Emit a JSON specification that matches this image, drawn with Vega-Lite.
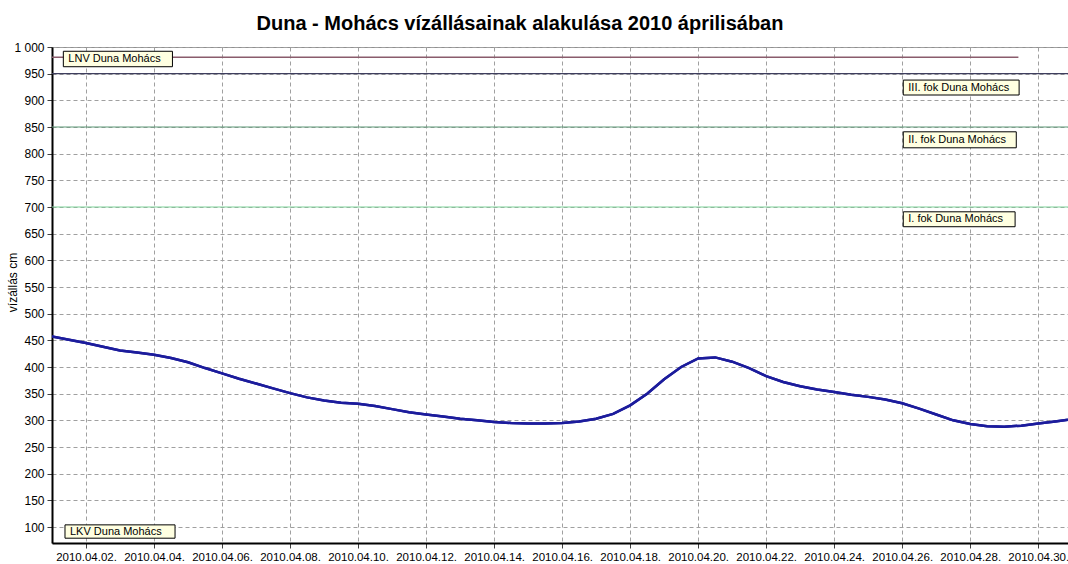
{
  "$schema": "https://vega.github.io/schema/vega-lite/v6.json",
  "width": 1016,
  "height": 496,
  "autosize": {"type": "none"},
  "padding": {"left": 52, "top": 47, "right": 0, "bottom": 21},
  "background": "white",
  "title": {
    "text": "Duna - Mohács vízállásainak alakulása 2010 áprilisában",
    "font": "Liberation Sans",
    "fontSize": 20,
    "fontWeight": "bold",
    "color": "black",
    "anchor": "middle",
    "frame": "group",
    "dx": -40,
    "offset": 7
  },
  "config": {
    "view": {"stroke": "#909090", "strokeWidth": 1},
    "font": "Liberation Sans",
    "axis": {
      "labelFont": "Liberation Sans",
      "labelFontSize": 12,
      "labelColor": "black",
      "labelOverlap": false,
      "titleFont": "Liberation Sans",
      "domainColor": "black",
      "domainWidth": 2,
      "tickColor": "#404040",
      "tickSize": 5,
      "gridColor": "#a0a0a0",
      "gridDash": [4, 3],
      "gridWidth": 1
    },
    "axisY": {"labelOverlap": false, "tickCount": 19}
  },
  "datasets": {
    "level": [
      {"t": "2010-04-01T00:00", "v": 457},
      {"t": "2010-04-01T12:00", "v": 451},
      {"t": "2010-04-02T00:00", "v": 445},
      {"t": "2010-04-02T12:00", "v": 438},
      {"t": "2010-04-03T00:00", "v": 431},
      {"t": "2010-04-03T12:00", "v": 427},
      {"t": "2010-04-04T00:00", "v": 423},
      {"t": "2010-04-04T12:00", "v": 417},
      {"t": "2010-04-05T00:00", "v": 409},
      {"t": "2010-04-05T12:00", "v": 398},
      {"t": "2010-04-06T00:00", "v": 388},
      {"t": "2010-04-06T12:00", "v": 378},
      {"t": "2010-04-07T00:00", "v": 369},
      {"t": "2010-04-07T12:00", "v": 360},
      {"t": "2010-04-08T00:00", "v": 351},
      {"t": "2010-04-08T12:00", "v": 343},
      {"t": "2010-04-09T00:00", "v": 337},
      {"t": "2010-04-09T12:00", "v": 333},
      {"t": "2010-04-10T00:00", "v": 331},
      {"t": "2010-04-10T12:00", "v": 327},
      {"t": "2010-04-11T00:00", "v": 321},
      {"t": "2010-04-11T12:00", "v": 315},
      {"t": "2010-04-12T00:00", "v": 311},
      {"t": "2010-04-12T12:00", "v": 307},
      {"t": "2010-04-13T00:00", "v": 303},
      {"t": "2010-04-13T12:00", "v": 300},
      {"t": "2010-04-14T00:00", "v": 297},
      {"t": "2010-04-14T12:00", "v": 295},
      {"t": "2010-04-15T00:00", "v": 294},
      {"t": "2010-04-15T12:00", "v": 294},
      {"t": "2010-04-16T00:00", "v": 295},
      {"t": "2010-04-16T12:00", "v": 298},
      {"t": "2010-04-17T00:00", "v": 303},
      {"t": "2010-04-17T12:00", "v": 312},
      {"t": "2010-04-18T00:00", "v": 328},
      {"t": "2010-04-18T12:00", "v": 350},
      {"t": "2010-04-19T00:00", "v": 377},
      {"t": "2010-04-19T12:00", "v": 400},
      {"t": "2010-04-20T00:00", "v": 416},
      {"t": "2010-04-20T12:00", "v": 418},
      {"t": "2010-04-21T00:00", "v": 410},
      {"t": "2010-04-21T12:00", "v": 398},
      {"t": "2010-04-22T00:00", "v": 383},
      {"t": "2010-04-22T12:00", "v": 372},
      {"t": "2010-04-23T00:00", "v": 364},
      {"t": "2010-04-23T12:00", "v": 358},
      {"t": "2010-04-24T00:00", "v": 353},
      {"t": "2010-04-24T12:00", "v": 348},
      {"t": "2010-04-25T00:00", "v": 344},
      {"t": "2010-04-25T12:00", "v": 339},
      {"t": "2010-04-26T00:00", "v": 332},
      {"t": "2010-04-26T12:00", "v": 322},
      {"t": "2010-04-27T00:00", "v": 311},
      {"t": "2010-04-27T12:00", "v": 300},
      {"t": "2010-04-28T00:00", "v": 293},
      {"t": "2010-04-28T12:00", "v": 289},
      {"t": "2010-04-29T00:00", "v": 288},
      {"t": "2010-04-29T12:00", "v": 290},
      {"t": "2010-04-30T00:00", "v": 294},
      {"t": "2010-04-30T12:00", "v": 298},
      {"t": "2010-04-30T21:00", "v": 301}
    ],
    "thresholds": [
      {"name": "III. fok Duna Mohács", "v": 950},
      {"name": "II. fok Duna Mohács", "v": 850},
      {"name": "I. fok Duna Mohács", "v": 700}
    ],
    "lnv": [
      {"name": "LNV Duna Mohács", "t1": "2010-04-01T00:00", "t2": "2010-04-29T10:00", "v": 981}
    ],
    "boxes": [
      {"name": "LNV Duna Mohács", "t1": "2010-04-01T08:00", "t2": "2010-04-04T13:00", "y1": 992, "y2": 963, "ym": 977.5},
      {"name": "III. fok Duna Mohács", "t1": "2010-04-26T00:45", "t2": "2010-04-29T10:30", "y1": 938, "y2": 910, "ym": 924},
      {"name": "II. fok Duna Mohács", "t1": "2010-04-26T00:45", "t2": "2010-04-29T08:30", "y1": 841, "y2": 811, "ym": 826},
      {"name": "I. fok Duna Mohács", "t1": "2010-04-26T00:45", "t2": "2010-04-29T07:40", "y1": 691, "y2": 663, "ym": 677},
      {"name": "LKV Duna Mohács", "t1": "2010-04-01T09:10", "t2": "2010-04-04T14:50", "y1": 104, "y2": 79, "ym": 91.5}
    ]
  },
  "layer": [
    {
      "data": {"name": "level"},
      "mark": {"type": "line", "color": "#1c1c9c", "strokeWidth": 2.5, "clip": true},
      "encoding": {
        "x": {
          "field": "t",
          "type": "temporal",
          "scale": {"domain": [{"year": 2010, "month": 4, "date": 1}, {"year": 2010, "month": 4, "date": 30, "hours": 21}]},
          "axis": {
            "title": null,
            "format": "%Y.%m.%d.",
            "labelFontSize": 11.5,
            "values": [
              {"year": 2010, "month": 4, "date": 2},
              {"year": 2010, "month": 4, "date": 4},
              {"year": 2010, "month": 4, "date": 6},
              {"year": 2010, "month": 4, "date": 8},
              {"year": 2010, "month": 4, "date": 10},
              {"year": 2010, "month": 4, "date": 12},
              {"year": 2010, "month": 4, "date": 14},
              {"year": 2010, "month": 4, "date": 16},
              {"year": 2010, "month": 4, "date": 18},
              {"year": 2010, "month": 4, "date": 20},
              {"year": 2010, "month": 4, "date": 22},
              {"year": 2010, "month": 4, "date": 24},
              {"year": 2010, "month": 4, "date": 26},
              {"year": 2010, "month": 4, "date": 28},
              {"year": 2010, "month": 4, "date": 30}
            ],
            "labelPadding": 3,
            "labelFlush": false,
            "labelOverlap": false
          }
        },
        "y": {
          "field": "v",
          "type": "quantitative",
          "scale": {"domain": [70, 1000], "nice": false, "zero": false},
          "axis": {
            "title": "vízállás cm",
            "titleFontSize": 12,
            "titleFontWeight": "normal",
            "titleColor": "black",
            "titleX": -40,
            "titleY": 235,
            "titleAlign": "center",
            "titleBaseline": "middle",
            "titleAngle": -90,
            "values": [100, 150, 200, 250, 300, 350, 400, 450, 500, 550, 600, 650, 700, 750, 800, 850, 900, 950, 1000],
            "labelExpr": "datum.value == 1000 ? '1 000' : format(datum.value, 'd')",
            "labelOverlap": false,
            "labelFlush": false,
            "labelPadding": 3
          }
        }
      }
    },
    {
      "data": {"name": "thresholds"},
      "mark": {"type": "rule", "strokeWidth": 1.2},
      "encoding": {
        "y": {"field": "v", "type": "quantitative"},
        "color": {
          "field": "name",
          "type": "nominal",
          "scale": {
            "domain": ["III. fok Duna Mohács", "II. fok Duna Mohács", "I. fok Duna Mohács", "LNV Duna Mohács"],
            "range": ["#3e3e5e", "#5e9a78", "#7fd39a", "#8a5c6c"]
          },
          "legend": null
        }
      }
    },
    {
      "data": {"name": "lnv"},
      "mark": {"type": "rule", "strokeWidth": 1.5},
      "encoding": {
        "x": {"field": "t1", "type": "temporal"},
        "x2": {"field": "t2"},
        "y": {"field": "v", "type": "quantitative"},
        "color": {"field": "name", "type": "nominal", "legend": null}
      }
    },
    {
      "data": {"name": "level"},
      "mark": {"type": "line", "color": "#1c1c9c", "strokeWidth": 2.5, "clip": true},
      "encoding": {
        "x": {"field": "t", "type": "temporal"},
        "y": {"field": "v", "type": "quantitative"}
      }
    },
    {
      "data": {"name": "boxes"},
      "mark": {"type": "rect", "fill": "#ffffe1", "stroke": "black", "strokeWidth": 1},
      "encoding": {
        "x": {"field": "t1", "type": "temporal"},
        "x2": {"field": "t2"},
        "y": {"field": "y1", "type": "quantitative"},
        "y2": {"field": "y2"}
      }
    },
    {
      "data": {"name": "boxes"},
      "mark": {"type": "text", "align": "left", "baseline": "middle", "dx": 5, "fontSize": 11, "font": "Liberation Sans", "color": "black"},
      "encoding": {
        "x": {"field": "t1", "type": "temporal"},
        "y": {"field": "ym", "type": "quantitative"},
        "text": {"field": "name"}
      }
    }
  ]
}
